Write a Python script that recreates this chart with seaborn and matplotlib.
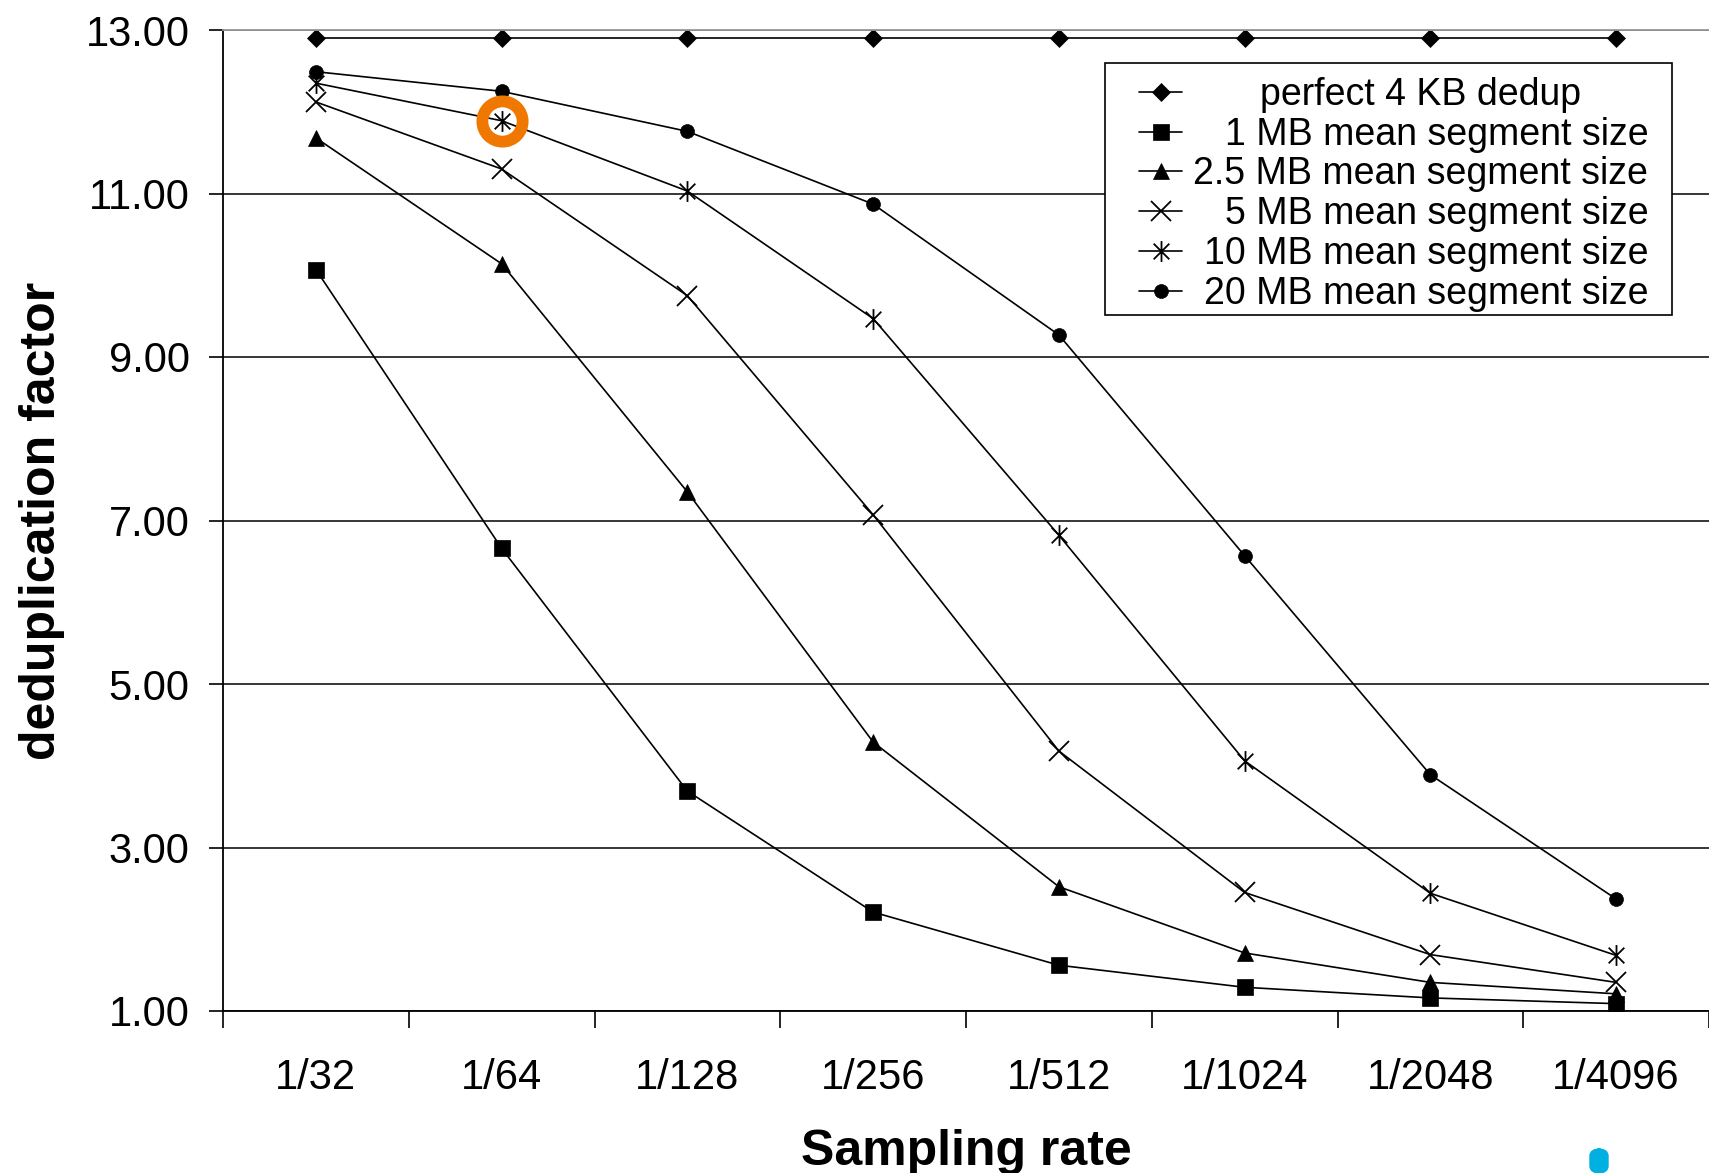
import matplotlib
matplotlib.use("Agg")
import matplotlib.pyplot as plt
from matplotlib.path import Path
from matplotlib.patches import FancyBboxPatch, Rectangle
import pandas as pd
import seaborn as sns

# Data
rates = ["1/32", "1/64", "1/128", "1/256", "1/512", "1/1024", "1/2048", "1/4096"]
series_names = ["perfect 4 KB dedup", "1 MB mean segment size", "2.5 MB mean segment size",
                "5 MB mean segment size", "10 MB mean segment size", "20 MB mean segment size"]
perfect = [12.90, 12.90, 12.90, 12.90, 12.90, 12.90, 12.90, 12.90]
seg_1mb = [10.07, 6.66, 3.69, 2.21, 1.56, 1.29, 1.16, 1.09]
seg_2_5mb = [11.68, 10.14, 7.35, 4.29, 2.52, 1.71, 1.35, 1.21]
seg_5mb = [12.12, 11.30, 9.75, 7.07, 4.18, 2.45, 1.69, 1.35]
seg_10mb = [12.35, 11.89, 11.03, 9.47, 6.82, 4.06, 2.44, 1.68]
seg_20mb = [12.49, 12.25, 11.76, 10.87, 9.27, 6.57, 3.89, 2.37]
y_ticks = [1, 3, 5, 7, 9, 11, 13]
highlight_rate = "1/64"
highlight_series = "10 MB mean segment size"

values = [perfect, seg_1mb, seg_2_5mb, seg_5mb, seg_10mb, seg_20mb]
df = pd.DataFrame([(r, name, v) for name, vals in zip(series_names, values)
                   for r, v in zip(rates, vals)], columns=["rate", "series", "factor"])

# asterisk marker: vertical bar plus an X
star = Path([(0, -1), (0, 1), (-0.75, -0.75), (0.75, 0.75), (-0.75, 0.75), (0.75, -0.75)],
            [Path.MOVETO, Path.LINETO, Path.MOVETO, Path.LINETO, Path.MOVETO, Path.LINETO])
markers = ["D", "s", "^", "x", star, "o"]
sizes = [9, 11, 12, 14, 15, 10]

sns.set_style("white")
plt.rcParams["font.family"] = ["Liberation Sans", "DejaVu Sans"]
plt.rcParams["text.color"] = "black"
plt.rcParams["axes.labelcolor"] = "black"
plt.rcParams["xtick.color"] = "black"
plt.rcParams["ytick.color"] = "black"

fig = plt.figure(figsize=(17.09, 11.73), dpi=100)
ax = fig.add_axes([223 / 1709, 1 - 1011 / 1173, 1 - 223 / 1709, (1011 - 30) / 1173])

sns.pointplot(data=df, x="rate", y="factor", hue="series", order=rates, hue_order=series_names,
              palette=["black"] * 6, markers=markers, linestyles="-", errorbar=None,
              linewidth=1.2, ax=ax)
if ax.get_legend() is not None:
    ax.get_legend().remove()

# fix marker look per line
series_lines = ax.get_lines()[:len(series_names)]
for i, line in enumerate(series_lines):
    line.set_markersize(sizes[i])
    line.set_color("black")
    line.set_markeredgecolor("black")
    line.set_markerfacecolor("black")
    line.set_markeredgewidth(1.3 if (markers[i] == "x" or markers[i] is star) else 0.5)
    line.set_linewidth(1.2)

# highlight ring
hx = rates.index(highlight_rate)
hy = values[series_names.index(highlight_series)][hx]
ax.plot([hx], [hy], marker="o", ms=29, mfc="none", mec="#F07800", mew=8.5, zorder=5)

ax.set_xlim(-0.5, len(rates) - 0.5)
ax.set_ylim(1, 13)
ax.set_yticks(y_ticks)
ax.set_yticklabels([f"{t:.2f}" for t in y_ticks])
ax.yaxis.grid(True, color="black", linewidth=1.1)
ax.set_axisbelow(True)

# ticks at category boundaries, labels at centres
ax.set_xticks([i - 0.5 for i in range(len(rates) + 1)])
ax.set_xticklabels([])
ax.set_xticks(range(len(rates)), minor=True)
ax.set_xticklabels(rates, minor=True)
ax.tick_params(axis="x", which="major", bottom=True, direction="out", length=12, width=1.2,
               color="black")
ax.tick_params(axis="x", which="minor", bottom=True, length=0, pad=34, labelsize=30,
               labelcolor="black")
ax.tick_params(axis="y", left=True, direction="out", length=10, width=1.2, color="black",
               pad=14, labelsize=30, labelcolor="black")

for s in ["left", "bottom"]:
    ax.spines[s].set_color("black")
    ax.spines[s].set_linewidth(1.3)
ax.spines["top"].set_color("#999999")
ax.spines["top"].set_linewidth(1.3)
ax.spines["right"].set_visible(False)

ax.set_xlabel("Sampling rate", fontsize=36, fontweight="bold", labelpad=22, color="black")
ax.set_ylabel("deduplication factor", fontsize=36, fontweight="bold", labelpad=15, color="black")

leg = ax.legend(series_lines, series_names, loc="upper left",
                bbox_to_anchor=(1139 / 1709, 1 - 77 / 1173),
                bbox_transform=fig.transFigure, fontsize=27, frameon=False,
                handlelength=1.15, handletextpad=0.3, labelspacing=0.1,
                borderpad=0, borderaxespad=0)
leg.set_zorder(10)
for t in leg.get_texts():
    t.set_color("black")

# legend frame, drawn in the axes just under the legend
ax.add_patch(Rectangle((1105 / 1709, 1 - 315 / 1173), 567 / 1709, 252 / 1173,
                       transform=fig.transFigure, facecolor="white", edgecolor="black",
                       linewidth=1.2, zorder=9, clip_on=False))

# right-align the legend texts (the first one is centred)
fig.canvas.draw()
renderer = fig.canvas.get_renderer()
texts = leg.get_texts()
widths = [t.get_window_extent(renderer).width for t in texts]
maxw = max(widths)
for i, (t, w) in enumerate(zip(texts, widths)):
    shift = (maxw - w) / 2 if i == 0 else (maxw - w)
    t.set_position((shift, 0))

# partial logo at the bottom right corner
fig.patches.append(FancyBboxPatch((1590 / 1709, 0.0), 18 / 1709, 24 / 1173,
                                  boxstyle="round,pad=0,rounding_size=0.006",
                                  transform=fig.transFigure, color="#00B0E0"))

fig.savefig("out.png", dpi=100)
